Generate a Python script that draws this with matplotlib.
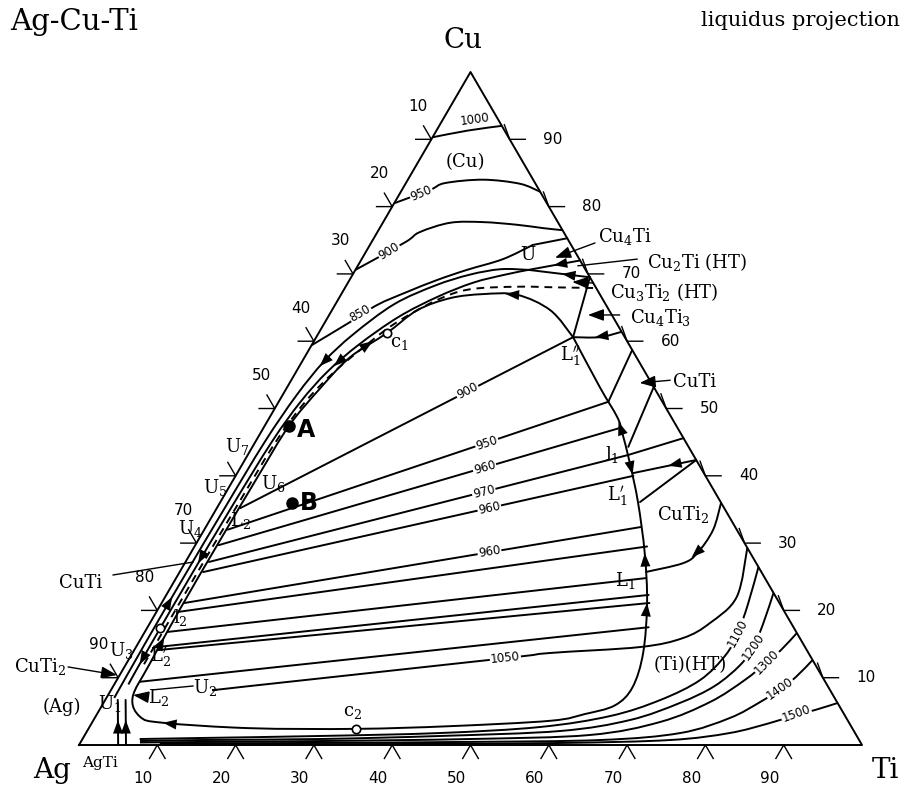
"""Ag-Cu-Ti liquidus projection redrawn as a ternary diagram."""

import numpy as np
import matplotlib.pyplot as plt
from matplotlib.path import Path
from matplotlib.patches import PathPatch

plt.rcParams["font.family"] = ["DejaVu Serif"]
plt.rcParams["mathtext.fontset"] = "dejavuserif"

S3 = np.sqrt(3) / 2
LW = 1.4

# every composition is (at.% Ti, at.% Cu); Ag is the balance
ISO_1000 = [(0, 90.3), (4, 91.3), (8, 92.0)]
ISO_950 = [(0, 80.5), (3.6, 82.5), (5.0, 83.5), (9.6, 84.0), (14.6, 83.4), (17.8, 82.2)]
ISO_900 = [(0, 70.6), (4.3, 74.7), (5.4, 76.2), (8.6, 77.6), (12.7, 77.7),
           (17.3, 77.3), (20.9, 76.8), (23.5, 76.5)]
ISO_850 = [(0, 59.4), (3.2, 62.85), (5.4, 65.4), (8.2, 67.3), (11.2, 69.1),
           (14.25, 70.6), (18.05, 72.2), (20.8, 74.3)]
U_TO_EDGE = [(20.8, 74.3), (24.7, 75.3)]

LOOP = [(32.8, 60.6), (27.9, 64.6), (22.5, 66.9), (18.1, 67.0), (14.2, 66.4),
        (10.9, 64.6), (8.7, 61.2), (5.8, 57.6), (4.3, 53.0), (3.1, 47.4),
        (2.9, 40), (2.8, 30), (2.8, 20), (3.0, 12), (3.3, 7.1), (5.7, 4.2),
        (9.1, 3.3), (20.6, 2.5), (34.2, 2.4), (46.0, 2.8), (58.4, 3.6),
        (62.3, 4.6), (65.5, 5.9), (66.4, 8.6), (65.2, 13.7), (62.0, 21.1),
        (58.0, 28.5), (53.4, 36.0), (49.4, 41.9), (46.1, 46.5), (44.4, 48.7),
        (39.9, 53.2), (32.8, 60.6)]
BAND_OUTER = [(1.0, 7), (0.9, 15), (0.9, 25), (1.0, 35), (1.2, 45), (1.8, 52),
              (2.8, 57), (4.5, 61), (7.5, 65.5), (11.4, 68.3), (15.0, 69.9),
              (18.5, 70.7), (22.1, 70.6)]
BAND_INNER = [(1.8, 9), (1.7, 15), (1.7, 25), (1.8, 35), (2.1, 45), (2.8, 51),
              (4.0, 55.5), (6.0, 59.5), (9.0, 63.6), (12.5, 66.6), (16.0, 68.7),
              (19.5, 69.9), (22.1, 70.6)]
BAND_DASHED = [(2.3, 12), (2.3, 25), (2.4, 35), (2.6, 45), (3.4, 51), (4.9, 55.5),
               (6.9, 59.3), (9.0, 62.6), (12.5, 66.0), (16.0, 67.7), (22.0, 68.1),
               (27.0, 68.0), (32.1, 67.9)]
TIP_TO_EDGE_1 = [(22.1, 70.6), (28.0, 72.0)]
TIP_TO_EDGE_2 = [(22.1, 70.6), (30.5, 69.5)]
L1PP_TO_EDGE = [(32.8, 60.6), (30.5, 69.5)]
EDGE_TO_L1PP = [(38.6, 61.4), (36.2, 60.6), (32.8, 60.6)]
CUTI_LOW = [(42.1, 51.0), (41.3, 58.7)]
CUTI_HIGH = [(48.0, 44.3), (46.8, 53.2)]
L1_TO_EDGE = [(48.6, 43.1), (54.4, 45.6)]
WEDGE_1 = [(57.65, 42.35), (53.6, 36.1)]
WEDGE_2 = [(57.65, 42.35), (50.55, 40.4)]
CUTI2_CURVE = [(59.5, 25.7), (63.6, 27.0), (64.7, 28.5), (65.0, 31.95), (64.0, 36.0)]
AGTI_1 = [(5.0, 0), (1.6, 6.7)]
AGTI_2 = [(6.0, 0), (2.6, 6.7)]

FAN_LINES = [
    [(3.0, 35.2), (32.8, 60.6)],
    [(3.0, 32.0), (42.1, 51.0)],
    [(3.0, 29.7), (45.5, 47.1)],
    [(3.0, 27.2), (48.6, 43.1)],
    [(3.0, 25.7), (50.8, 40.0)],
    [(2.9, 21.1), (55.6, 32.4)],
    [(2.9, 19.8), (57.8, 29.5)],
    [(2.9, 16.8), (60.0, 24.8)],
    [(3.0, 14.6), (61.6, 22.3)],
    [(3.0, 14.1), (62.3, 21.1)],
    [(3.1, 9.4), (64.0, 17.5)],
]
ISO_1050 = [(13.5, 8.2), (17.5, 8.77), (48.0, 12.9), (53.3, 13.67), (64.4, 14.56),
            (69.2, 15.9), (71.5, 18.1), (73.0, 22.0), (70.7, 29.3)]
ISO_1100 = [(73.55, 26.45), (75.0, 20.8), (75.8, 16.64), (75.9, 13.37), (74.5, 9.66),
            (70.9, 6.69), (65.7, 4.31), (57.5, 2.67), (45.2, 1.78), (30.1, 1.34),
            (14.9, 1.04), (7.3, 0.89)]
ISO_1200 = [(77.4, 22.59), (78.4, 17.83), (78.8, 14.56), (78.5, 11.89), (76.8, 8.77),
            (73.6, 6.24), (68.5, 3.71), (60.4, 2.08), (45.4, 1.34), (30.3, 0.89),
            (15.1, 0.74), (7.5, 0.59)]
ISO_1300 = [(83.36, 16.64), (82.6, 14.12), (81.7, 12.33), (80.2, 9.66), (77.4, 6.39),
            (72.5, 3.42), (64.5, 1.49), (49.5, 0.89), (30.5, 0.59), (15.2, 0.45),
            (7.6, 0.37)]
ISO_1400 = [(87.37, 12.63), (86.5, 10.1), (85.4, 8.32), (83.8, 6.39), (81.1, 4.01),
            (75.9, 1.78), (66.2, 0.74), (48.4, 0.45), (28.1, 0.3), (10.2, 0.22)]
ISO_1500 = [(93.76, 6.24), (91.4, 5.2), (89.0, 4.31), (86.6, 3.27), (82.2, 1.78),
            (75.1, 0.74), (61.3, 0.3), (41.0, 0.15), (15.4, 0.07)]

# (label, composition, angle in degrees)
ISO_LABELS = [
    ("1000", (4.1, 92.9), 8), ("950", (2.7, 82.0), 23), ("900", (2.9, 73.4), 31),
    ("850", (3.8, 64.2), 30), ("900", (23.3, 52.6), 27), ("950", (29.7, 44.8), 18),
    ("960", (31.2, 41.2), 16), ("970", (32.9, 37.6), 14), ("960", (34.8, 35.2), 12),
    ("960", (38.1, 28.65), 9.5), ("1050", (48.0, 12.9), 6), ("1100", (75.8, 16.64), 62),
    ("1200", (78.8, 14.56), 55), ("1300", (81.7, 12.33), 45), ("1400", (85.4, 8.32), 35),
    ("1500", (89.3, 4.6), 20),
]
POINT_LABELS = [
    ("U", (20.9, 72.8)), (r"c$_1$", (11.1, 59.7)), (r"L$_1''$", (33.9, 57.65)),
    (r"l$_1$", (46.5, 43.1)), (r"L$_1'$", (50.3, 36.85)), (r"L$_1$", (57.5, 24.5)),
    (r"U$_7$", (-2.0, 44.3)), (r"U$_6$", (5.3, 38.9)), (r"U$_5$", (-1.8, 38.3)),
    (r"U$_4$", (-1.9, 32.2)), (r"L$_2$", (3.9, 33.4)), (r"l$_2$", (3.4, 19.0)),
    (r"L$_2'$", (3.9, 12.9)), (r"U$_3$", (-1.6, 14.1)), (r"U$_2$", (11.8, 8.6)),
    (r"L$_2$", (6.6, 7.0)), (r"U$_1$", (0.8, 6.2)), (r"c$_2$", (32.5, 4.9)),
]
PHASE_LABELS = [
    ("(Cu)", (6.1, 86.6), "center"), (r"CuTi$_2$", (60.0, 34.2), "center"),
    ("(Ti)(HT)", (72.1, 11.9), "center"), ("(Ag)", (-5.0, 5.65), "center"),
    ("CuTi", (-11.9, 24.1), "center"), (r"CuTi$_2$", (-10.8, 11.6), "center"),
    (r"Cu$_4$Ti", (28.5, 75.5), "left"), (r"Cu$_2$Ti (HT)", (36.6, 71.8), "left"),
    (r"Cu$_3$Ti$_2$ (HT)", (34.2, 67.3), "left"), (r"Cu$_4$Ti$_3$", (38.6, 63.45), "left"),
    ("CuTi", (48.9, 53.9), "left"),
]
# (tail, head, with arrow head)
POINTERS = [
    ((28.6, 74.6), (24.6, 72.4), True), ((35.2, 72.2), (28.1, 71.2), False),
    ((31.3, 68.65), (28.6, 68.8), True), ((37.1, 63.9), (33.05, 63.9), True),
    ((48.4, 54.2), (44.7, 53.8), True), ((-8.3, 25.26), (1.0, 27.19), False),
    ((-7.2, 11.6), (-0.35, 10.4), True), ((10.2, 8.77), (5.4, 8.2), False),
    ((5.2, 7.13), (3.2, 7.43), True),
]
# (tip, tail) of the small arrow heads sitting on the curves
ARROW_HEADS = [
    ((21.0, 67.0), (23.5, 66.8)), ((44.9, 48.0), (46.1, 46.5)),
    ((50.6, 40.2), (49.4, 41.9)), ((58.0, 28.5), (59.2, 26.3)),
    ((62.0, 21.1), (63.0, 18.7)), ((9.1, 3.3), (12.0, 2.9)),
    ((35.6, 60.6), (37.2, 60.9)), ((25.0, 71.3), (25.9, 71.5)),
    ((26.7, 70.0), (28.0, 69.8)), ((54.5, 41.5), (55.5, 41.8)),
    ((64.3, 27.9), (64.9, 29.3)), ((3.13, 3.69), (3.64, 2.68)),
    ((4.13, 3.69), (4.64, 2.68)), ((2.6, 56.3), (3.2, 58.0)),
    ((4.4, 56.3), (5.2, 58.0)), ((7.5, 60.0), (6.6, 58.8)),
    ((0.9, 22), (0.9, 19)), ((1.7, 27), (1.7, 30)), ((2.9, 16), (3.0, 13)),
    ((1.75, 12), (1.7, 15)),
]
OPEN_POINTS = [(8.7, 61.2), (34.2, 2.4), (1.6, 17.4)]
ALLOY_A = (3.1, 47.4)
ALLOY_B = (9.2, 35.96)
TICKS = [10, 20, 30, 40, 50, 60, 70, 80, 90]
# Ag numbers on the left side that stay readable in the source (60 is hidden by U7)
LEFT_NUMBERS = [10, 20, 30, 40, 50, 70, 80, 90]


def xy(points):
    pts = np.asarray(points, float)
    return np.column_stack([pts[:, 0] + pts[:, 1] / 2, pts[:, 1] * S3])


def draw_curve(ax, points, ls="-"):
    p = xy(points)
    if len(p) < 3:
        ax.plot(p[:, 0], p[:, 1], color="k", lw=LW, ls=ls, solid_capstyle="round")
        return
    ext = np.vstack([p[0], p, p[-1]])
    verts, codes = [p[0]], [Path.MOVETO]
    for i in range(1, len(ext) - 2):
        p0, p1, p2, p3 = ext[i - 1], ext[i], ext[i + 1], ext[i + 2]
        verts += [p1 + (p2 - p0) / 6, p2 - (p3 - p1) / 6, p2]
        codes += [Path.CURVE4] * 3
    ax.add_patch(PathPatch(Path(verts, codes), fill=False, lw=LW, ec="k", ls=ls))


def arrow_head(ax, tip, tail):
    (x1, y1), (x0, y0) = xy([tip, tail])
    ax.annotate("", xy=(x1, y1), xytext=(x0, y0),
                arrowprops=dict(arrowstyle="-|>,head_length=0.8,head_width=0.3",
                                color="k", lw=0.01, shrinkA=0, shrinkB=0,
                                mutation_scale=12))


def main():
    fig = plt.figure(figsize=(9.09, 7.90), dpi=100)
    ax = fig.add_axes([0, 0, 1, 1])
    ax.set_xlim(-10.09, 106.0)
    ax.set_ylim(-5.79, 95.87)
    ax.axis("off")

    corners = xy([(0, 0), (100, 0), (0, 100), (0, 0)])
    ax.plot(corners[:, 0], corners[:, 1], color="k", lw=LW)

    # tick marks and numbers on the three sides
    leg = 2.0
    num = dict(ha="center", va="center", fontsize=11, family="DejaVu Sans",
               textcoords="offset pixels")
    for t in TICKS:
        bx, by = xy([(t, 0)])[0]
        ax.plot([bx - leg * 0.5, bx, bx + leg * 0.5], [by - leg * S3, by, by - leg * S3],
                color="k", lw=1.0)
        ax.annotate(str(t), (bx, by), xytext=(-14, -33), **num)
        lx, ly = xy([(0, 100 - t)])[0]
        ax.plot([lx - leg, lx, lx - leg * 0.5], [ly, ly, ly + leg * S3], color="k", lw=1.0)
        if t in LEFT_NUMBERS:
            dx = -19 if t == 90 else -13
            ax.annotate(str(t), (lx, ly), xytext=(dx, 33), **num)
        rx, ry = xy([(100 - t, t)])[0]
        ax.plot([rx + leg, rx, rx - leg * 0.34], [ry, ry, ry + leg * 0.94], color="k", lw=1.0)
        ax.annotate(str(t), (rx, ry), xytext=(43, 0), **num)

    for curve in [ISO_1000, ISO_950, ISO_900, ISO_850, U_TO_EDGE, LOOP, BAND_OUTER,
                  BAND_INNER, TIP_TO_EDGE_1, TIP_TO_EDGE_2, L1PP_TO_EDGE, EDGE_TO_L1PP,
                  CUTI_LOW, CUTI_HIGH, L1_TO_EDGE, WEDGE_1, WEDGE_2, CUTI2_CURVE,
                  AGTI_1, AGTI_2, ISO_1050, ISO_1100, ISO_1200, ISO_1300, ISO_1400,
                  ISO_1500] + FAN_LINES:
        draw_curve(ax, curve)
    draw_curve(ax, BAND_DASHED, ls=(0, (4, 3)))

    for tip, tail in ARROW_HEADS:
        arrow_head(ax, tip, tail)

    for tail, head, has_head in POINTERS:
        (hx, hy), (tx, ty) = xy([head, tail])
        style = "-|>,head_length=0.8,head_width=0.3" if has_head else "-"
        ax.annotate("", xy=(hx, hy), xytext=(tx, ty),
                    arrowprops=dict(arrowstyle=style, color="k", lw=1.0, shrinkA=0,
                                    shrinkB=0, mutation_scale=12))

    for text, pos, ang in ISO_LABELS:
        x, y = xy([pos])[0]
        ax.text(x, y, text, rotation=ang, ha="center", va="center", fontsize=8.5,
                family="DejaVu Sans", rotation_mode="anchor", zorder=5,
                bbox=dict(fc="white", ec="none", pad=0.6))

    for text, pos in POINT_LABELS:
        x, y = xy([pos])[0]
        ax.text(x, y, text, ha="center", va="center", fontsize=13, zorder=5)

    for text, pos, ha in PHASE_LABELS:
        x, y = xy([pos])[0]
        ax.text(x, y, text, ha=ha, va="center", fontsize=13, zorder=5)

    agti = xy([(4.0, -2.67)])[0]
    ax.text(agti[0], agti[1], "AgTi", ha="center", va="center", fontsize=11)

    op = xy(OPEN_POINTS)
    ax.plot(op[:, 0], op[:, 1], "o", ms=6, mfc="white", mec="k", mew=1.2, zorder=6)
    ab = xy([ALLOY_A, ALLOY_B])
    ax.plot(ab[:, 0], ab[:, 1], "o", ms=8, color="k", zorder=6)
    ax.text(ab[0, 0] + 1.0, ab[0, 1] - 0.5, "A", fontsize=17, fontweight="bold",
            family="DejaVu Sans", va="center")
    ax.text(ab[1, 0] + 1.0, ab[1, 1], "B", fontsize=17, fontweight="bold",
            family="DejaVu Sans", va="center")

    # corner element names
    ax.annotate("Cu", xy([(0, 100)])[0], xytext=(-8, 32), textcoords="offset pixels",
                ha="center", va="center", fontsize=20)
    ax.annotate("Ag", xy([(0, 0)])[0], xytext=(-27, -25), textcoords="offset pixels",
                ha="center", va="center", fontsize=20)
    ax.annotate("Ti", xy([(100, 0)])[0], xytext=(23, -25), textcoords="offset pixels",
                ha="center", va="center", fontsize=20)

    fig.text(0.011, 1 - 22 / 790, "Ag-Cu-Ti", ha="left", va="center", fontsize=21)
    fig.text(0.99, 1 - 20 / 790, "liquidus projection", ha="right", va="center",
             fontsize=15)

    fig.savefig("out.png", dpi=100)


if __name__ == "__main__":
    main()
